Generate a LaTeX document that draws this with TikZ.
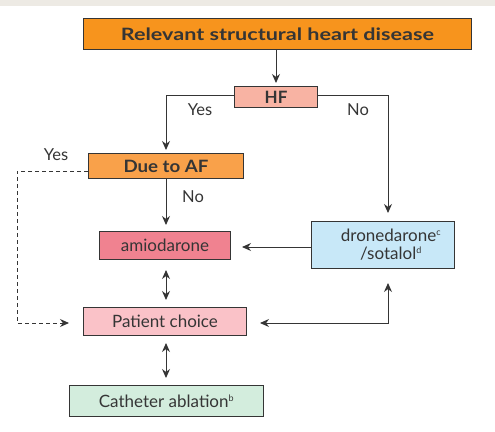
\documentclass[tikz,border=0pt]{standalone}
\usepackage{fontspec}
\setmainfont{Lato}
\usetikzlibrary{arrows.meta}
\definecolor{band}{HTML}{EDEAE4}
\definecolor{txt}{HTML}{353535}
\definecolor{cOrange}{HTML}{F7941D}
\definecolor{cOrangeL}{HTML}{F9A14A}
\definecolor{cSalmon}{HTML}{F8B3A3}
\definecolor{cRed}{HTML}{F08290}
\definecolor{cBlue}{HTML}{C8E8F8}
\definecolor{cPink}{HTML}{FAC2C8}
\definecolor{cGreen}{HTML}{D3EDDD}
\newcommand{\supx}[1]{\textsuperscript{\fontsize{9}{9}\selectfont #1}}
\tikzset{
  box/.style={draw=txt, line width=1pt, text=txt, inner sep=0pt, anchor=north west, align=center},
  conn/.style={draw=txt, line width=1pt, -{Stealth[length=9pt,width=8pt]}},
  both/.style={{Stealth[length=9pt,width=8pt]}-{Stealth[length=9pt,width=8pt]}},
  lab/.style={text=txt, font=\fontsize{16.5}{19}\selectfont},
}
\begin{document}
\begin{tikzpicture}[x=1pt,y=-1pt, font=\fontsize{17}{20}\selectfont]
\useasboundingbox (0,0) rectangle (495,431);
\fill[band] (0,0) rectangle (495,6);
\node[box, fill=cOrange, minimum width=388pt, minimum height=31pt, font=\bfseries\fontsize{17}{20}\selectfont] (title) at (83,18) {\scalebox{1.27}[1]{Relevant structural heart disease}};
\node[box, fill=cSalmon, minimum width=83pt, minimum height=21pt, font=\bfseries\fontsize{17}{20}\selectfont] (hf) at (234,86) {HF};
\node[box, fill=cOrangeL, minimum width=155pt, minimum height=25pt, font=\bfseries\fontsize{17}{20}\selectfont] (af) at (88,153) {\scalebox{1.1}[1]{Due to AF}};
\node[box, fill=cRed, minimum width=131pt, minimum height=28pt] (amio) at (99,231) {amiodarone};
\node[box, fill=cBlue, minimum width=143pt, minimum height=47pt, font=\fontsize{17}{18}\selectfont] (drone) at (311,221) {\hspace*{16pt}dronedarone\supx{c}\\\hspace*{16pt}/sotalol\supx{d}};
\node[box, fill=cPink, minimum width=163pt, minimum height=28pt] (pc) at (83,307) {Patient choice};
\node[box, fill=cGreen, minimum width=194pt, minimum height=31pt] (cath) at (69,385) {Catheter ablation\supx{b}};
\coordinate (hfL) at (166,95);
\coordinate (hfR) at (388,95);
\coordinate (dL) at (17,171);
\coordinate (dB) at (17,323);
\coordinate (pcR) at (388,323);
\draw[conn, shorten >=3pt] (title.south -| hf.north) -- (hf.north);
\draw[conn, shorten >=3pt] (hf.west |- hfL) -- (hfL) -- (af.north -| hfL);
\draw[conn, shorten >=8pt] (hf.east |- hfR) -- (hfR) -- (drone.north -| hfR);
\draw[conn, shorten >=6pt] (af.south -| hfL) -- (amio.north -| hfL);
\draw[conn, shorten >=11pt] (drone.west |- 0,247) -- (amio.east |- 0,247);
\draw[conn, both, shorten <=10pt, shorten >=7pt] (amio.south -| hfL) -- (pc.north -| hfL);
\draw[conn, both, shorten <=7pt, shorten >=7pt] (pc.south -| hfL) -- (cath.north -| hfL);
\draw[conn, both, shorten <=13pt, shorten >=14pt] (pc.east |- pcR) -- (pcR) -- (drone.south -| pcR);
\draw[conn, dashed, dash pattern=on 4pt off 3pt, shorten >=14pt] (af.west |- dL) -- (dL) -- (dB) -- (pc.west |- dB);
\node[lab] (yes1) at (200,110) {Yes};
\node[lab] (no1) at (358,110) {No};
\node[lab] (yes2) at (56,155) {Yes};
\node[lab] (no2) at (193,197) {No};
\end{tikzpicture}
\end{document}
